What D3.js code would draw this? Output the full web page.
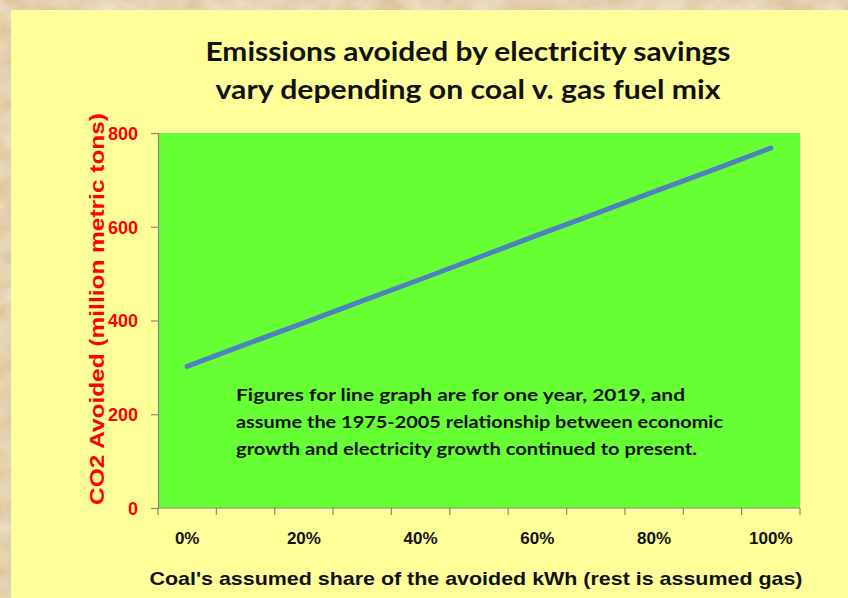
<!DOCTYPE html>
<html>
<head>
<meta charset="utf-8">
<script src="https://cdn.jsdelivr.net/npm/d3@7"></script>
<style>
  html, body { margin: 0; padding: 0; background: #e6d3ae; }
  svg { display: block; }
</style>
</head>
<body>
<svg id="chart" width="848" height="598"></svg>
<script>
// Coal share of avoided kWh (categories) and CO2 avoided, million metric tons
const categories = ["0%", "10%", "20%", "30%", "40%", "50%", "60%", "70%", "80%", "90%", "100%"];
const co2Avoided = [302, 349, 395, 442, 488, 535, 582, 628, 675, 721, 768];
const yTicks = [0, 200, 400, 600, 800];
const xLabelShown = ["0%", "20%", "40%", "60%", "80%", "100%"];

const titleLines = ["Emissions avoided by electricity savings", "vary depending on coal v. gas fuel mix"];
const noteLines = [
  "Figures for line graph are for one year, 2019, and",
  "assume the 1975-2005 relationship between economic",
  "growth and electricity growth continued to present."
];
const yTitle = "CO2 Avoided (million metric tons)";
const xTitle = "Coal's assumed share of the avoided kWh (rest is assumed gas)";

const svg = d3.select("#chart");
const W = 848, H = 598;

// Parchment backdrop with a soft mottled texture
const defs = svg.append("defs");
const f = defs.append("filter").attr("id", "parchment").attr("x", 0).attr("y", 0).attr("width", 1).attr("height", 1);
f.append("feTurbulence").attr("type", "fractalNoise").attr("baseFrequency", "0.035 0.05").attr("numOctaves", 3).attr("seed", 7).attr("result", "noise");
f.append("feColorMatrix").attr("in", "noise").attr("type", "matrix")
  .attr("values", "0 0 0 0 0.93  0 0 0 0 0.85  0 0 0 0 0.72  0 0 0 -0.9 0.75").attr("result", "tint");
f.append("feComposite").attr("in", "tint").attr("in2", "SourceGraphic").attr("operator", "over");

svg.append("rect").attr("width", W).attr("height", H).attr("fill", "#dcc39a").attr("filter", "url(#parchment)");

// Chart panel
svg.append("rect").attr("x", 11).attr("y", 10).attr("width", W - 11).attr("height", H - 10).attr("fill", "#ffff99");

const plot = { left: 158, top: 133, right: 800, bottom: 508 };

const xBand = d3.scaleBand().domain(categories).range([plot.left, plot.right]);
const x = d3.scalePoint().domain(categories).range([plot.left, plot.right]).padding(0.5);
const y = d3.scaleLinear().domain([0, 800]).range([plot.bottom, plot.top]);

// Plot area
svg.append("rect")
  .attr("x", plot.left).attr("y", plot.top)
  .attr("width", plot.right - plot.left).attr("height", plot.bottom - plot.top)
  .attr("fill", "#66ff33");

// Y axis
const yAxis = d3.axisLeft(y).tickValues(yTicks).tickSize(7).tickPadding(13);
const gy = svg.append("g").attr("transform", `translate(${plot.left},0)`).call(yAxis)
  .attr("font-size", null).attr("font-family", null);
gy.select(".domain").attr("stroke", "#868686").attr("stroke-width", 1.2);
gy.selectAll(".tick line").attr("stroke", "#868686").attr("stroke-width", 1.2);
gy.selectAll(".tick text")
  .attr("fill", "#ff0000")
  .style("font-family", "'Liberation Sans', Arial, sans-serif")
  .style("font-weight", "bold").style("font-size", "18px").attr("dy", "0.36em");

// X axis: ticks on category boundaries, labels on every other category
const boundaries = categories.map(c => xBand(c)).concat([plot.right]);
const gx = svg.append("g");
gx.append("line").attr("x1", plot.left).attr("x2", plot.right)
  .attr("y1", plot.bottom).attr("y2", plot.bottom)
  .attr("stroke", "#868686").attr("stroke-width", 1.2);
gx.selectAll("line.tick").data(boundaries).join("line").attr("class", "tick")
  .attr("x1", d => d).attr("x2", d => d)
  .attr("y1", plot.bottom).attr("y2", plot.bottom + 7)
  .attr("stroke", "#868686").attr("stroke-width", 1.2);
gx.selectAll("text").data(xLabelShown).join("text")
  .attr("x", d => x(d)).attr("y", 544)
  .attr("text-anchor", "middle")
  .style("font-family", "'Liberation Sans', Arial, sans-serif")
  .style("font-weight", "bold").style("font-size", "17px").attr("fill", "#111")
  .text(d => d);

// Data line
const line = d3.line().x((d, i) => x(categories[i])).y(d => y(d));
svg.append("path").datum(co2Avoided)
  .attr("d", line)
  .attr("fill", "none").attr("stroke", "#4f81bd")
  .attr("stroke-width", 5).attr("stroke-linecap", "round").attr("stroke-linejoin", "round");

// Fit a text element to a target width by compressing glyphs when needed
function fit(sel, width) {
  sel.each(function () {
    const w = this.getComputedTextLength();
    if (w > 0) d3.select(this).attr("textLength", width).attr("lengthAdjust", "spacingAndGlyphs");
  });
}

// Title
const titleWidths = [525, 505];
const titleBase = [61, 99];
titleLines.forEach((t, i) => {
  svg.append("text").attr("x", 468).attr("y", titleBase[i])
    .attr("text-anchor", "middle")
    .attr("font-family", "Lato, 'Open Sans', sans-serif").attr("font-weight", "bold")
    .attr("font-size", 27).attr("fill", "#111")
    .text(t).call(fit, titleWidths[i]);
});

// Note inside the plot
const noteWidths = [449, 487, 461];
noteLines.forEach((t, i) => {
  svg.append("text").attr("x", 236).attr("y", 401 + i * 27)
    .attr("font-family", "Lato, 'Open Sans', sans-serif").attr("font-weight", "bold")
    .attr("font-size", 17).attr("fill", "#111")
    .text(t).call(fit, noteWidths[i]);
});

// Axis titles
svg.append("text")
  .attr("transform", "translate(104,309) rotate(-90)")
  .attr("text-anchor", "middle")
  .attr("font-family", "'Liberation Sans', Arial, sans-serif").attr("font-weight", "bold")
  .attr("font-size", 20).attr("fill", "#ff0000")
  .text(yTitle).call(fit, 392);

svg.append("text")
  .attr("x", 476).attr("y", 585)
  .attr("text-anchor", "middle")
  .attr("font-family", "'Liberation Sans', Arial, sans-serif").attr("font-weight", "bold")
  .attr("font-size", 19).attr("fill", "#111")
  .text(xTitle).call(fit, 653);
</script>
</body>
</html>
